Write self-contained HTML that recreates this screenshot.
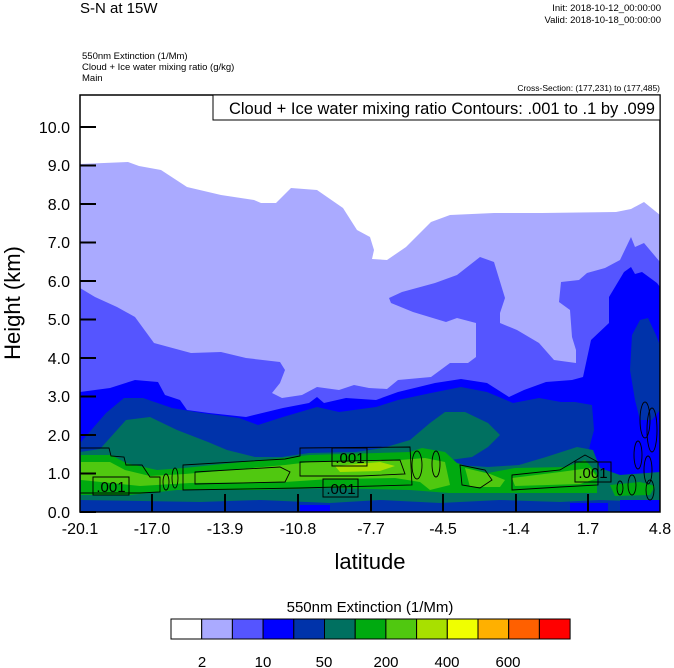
<!DOCTYPE html>
<html><head><meta charset="utf-8"><style>
body{margin:0;background:#fff;}
svg{display:block;font-family:"Liberation Sans",Arial,sans-serif;}
</style></head><body>
<svg width="674" height="668" viewBox="0 0 674 668" xmlns="http://www.w3.org/2000/svg">
<rect width="674" height="668" fill="#fff"/>
<text x="80" y="13" font-size="15">S-N at 15W</text>
<text x="661" y="11" font-size="9.5" text-anchor="end">Init: 2018-10-12_00:00:00</text>
<text x="661" y="23" font-size="9.5" text-anchor="end">Valid: 2018-10-18_00:00:00</text>
<text x="82" y="59" font-size="9.5">550nm Extinction   (1/Mm)</text>
<text x="82" y="70" font-size="9.5">Cloud + Ice water mixing ratio   (g/kg)</text>
<text x="82" y="81" font-size="9.5">Main</text>
<text x="660" y="91" font-size="8.5" text-anchor="end">Cross-Section: (177,231) to (177,485)</text>
<defs><clipPath id="c"><rect x="80" y="95" width="580" height="417"/></clipPath></defs>
<g clip-path="url(#c)">
<polygon fill="#aaaaff" points="80,164 128,162 139,166 161,170 187,187 221,195 254,200 261,203 276,203 291,188 317,190 343,208 357,230 370,237 374,250 372,259 387,260 406,247 431,222 450,215 494,213 542,213 616,212 631,209 644,202 660,215 660,512 80,512"/>
<polygon fill="#5555ff" points="80,288 95,297 117,307 135,317 154,343 191,353 221,352 246,358 280,362 285,370 280,383 272,393 282,398 302,395 317,387 339,390 354,385 369,388 387,389 398,380 431,377 450,363 468,363 476,357 476,323 457,318 446,322 413,312 391,303 389,298 402,292 435,283 457,275 480,257 494,262 505,298 500,313 500,323 517,330 539,343 554,360 576,363 576,350 572,337 570,310 559,302 561,282 579,280 587,273 605,268 620,260 631,237 635,247 644,243 660,262 660,512 80,512"/>
<polygon fill="#0000ff" points="80,392 110,388 135,380 158,382 165,395 180,400 187,410 209,413 246,417 283,408 309,403 317,397 324,403 346,398 376,400 398,392 435,383 461,379 487,383 509,397 524,390 546,382 572,380 583,377 591,340 609,323 609,297 624,272 631,267 635,274 642,272 657,283 660,287 660,512 80,512"/>
<polygon fill="#0033aa" points="80,443 106,413 124,398 143,398 172,408 202,413 239,418 258,425 283,417 317,407 339,412 376,407 398,400 431,393 461,387 487,392 513,403 539,398 561,402 575,402 592,405 594,430 590,445 585,470 580,512 80,512"/>
<polygon fill="#0033aa" points="632,335 640,320 648,318 656,335 660,345 660,410 652,420 640,420 635,400 630,370"/>
<polygon fill="#007060" points="80,452 100,449 126,420 150,417 177,430 208,442 227,450 255,457 282,457 309,453 356,452 383,448 410,440 430,423 445,412 465,412 488,423 500,435 488,447 472,457 450,460 457,465 488,467 519,465 546,457 577,447 593,450 600,468 620,475 660,472 660,505 80,505"/>
<polygon fill="#00aa10" points="81,455 111,455 126,463 157,470 184,468 282,458 309,455 410,452 422,448 445,452 457,463 488,473 515,468 566,467 585,460 597,473 597,493 546,493 488,493 449,493 410,490 332,488 255,490 177,490 130,495 81,495"/>
<polygon fill="#00aa10" points="610,485 640,482 655,486 650,495 615,496"/>
<polygon fill="#50c810" points="81,462 110,462 125,470 150,476 185,474 285,465 310,462 400,460 425,458 445,462 450,485 430,490 420,482 395,478 330,479 285,482 190,483 140,486 81,480"/>
<polygon fill="#50c810" points="465,468 490,474 505,480 500,487 470,487"/>
<polygon fill="#50c810" points="512,478 560,472 590,468 598,478 580,484 515,486"/>
<polygon fill="#a8e000" points="335,466 380,462 395,466 380,471 340,472"/>
<polygon fill="#0033aa" points="80,500 200,502 260,500 330,503 380,500 440,503 500,500 560,502 600,500 660,502 660,512 80,512"/>
<polygon fill="#0000ff" points="300,505 330,505 330,512 300,512"/>
<polygon fill="#0000ff" points="570,503 608,503 608,512 570,512"/>
<polygon fill="#0000ff" points="620,500 660,500 660,512 620,512"/>
<g fill="none" stroke="#000" stroke-width="0.9">
<polyline points="80,448 109,448 111,456 124,457 126,465 142,465 150,477 160,477 160,492 140,493 100,493 80,493"/>
<path d="M183,465 L285,459 L300,456 L300,448 L410,447 L412,485 L300,488 L183,490 Z"/>
<path d="M195,472 L280,467 L290,472 L285,482 L195,484 Z"/>
<path d="M300,462 L400,460 L405,474 L360,476 L300,476 Z"/>
<path d="M460,465 L485,470 L492,480 L480,488 L462,485 Z"/>
<path d="M512,475 L560,470 L585,455 L598,462 L598,485 L560,487 L512,490 Z"/>
<ellipse cx="417" cy="465" rx="5" ry="14"/>
<ellipse cx="436" cy="464" rx="4" ry="13"/>
<ellipse cx="175" cy="478" rx="3" ry="10"/>
<ellipse cx="166" cy="482" rx="3" ry="8"/>
<ellipse cx="645" cy="420" rx="5" ry="18"/>
<ellipse cx="652" cy="430" rx="5" ry="22"/>
<ellipse cx="638" cy="455" rx="4" ry="14"/>
<ellipse cx="648" cy="470" rx="4" ry="14"/>
<ellipse cx="632" cy="485" rx="4" ry="10"/>
<ellipse cx="650" cy="490" rx="4" ry="10"/>
<ellipse cx="620" cy="488" rx="3" ry="7"/>
</g>
<g font-size="15" text-anchor="middle">
<rect x="93" y="477" width="36" height="18" fill="none" stroke="#000"/><text x="111" y="492">.001</text>
<rect x="332" y="448" width="35" height="18" fill="none" stroke="#000"/><text x="350" y="463">.001</text>
<rect x="323" y="479" width="35" height="18" fill="none" stroke="#000"/><text x="341" y="494">.001</text>
<rect x="575" y="462" width="36" height="20" fill="none" stroke="#000"/><text x="593" y="478">.001</text>
</g>
</g>
<rect x="80" y="95" width="580" height="417" fill="none" stroke="#000" stroke-width="1.5"/>
<rect x="213" y="95" width="447" height="25" fill="#fff" stroke="#000" stroke-width="1"/>
<text x="655" y="114" font-size="16.5" text-anchor="end">Cloud + Ice water mixing ratio Contours: .001 to .1 by .099</text>
<g stroke="#000" stroke-width="2">
<line x1="80" y1="512" x2="96" y2="512"/><line x1="80" y1="473.5" x2="96" y2="473.5"/><line x1="80" y1="435" x2="96" y2="435"/><line x1="80" y1="396.5" x2="96" y2="396.5"/><line x1="80" y1="358" x2="96" y2="358"/><line x1="80" y1="319.5" x2="96" y2="319.5"/><line x1="80" y1="281" x2="96" y2="281"/><line x1="80" y1="242.5" x2="96" y2="242.5"/><line x1="80" y1="204" x2="96" y2="204"/><line x1="80" y1="165.5" x2="96" y2="165.5"/><line x1="80" y1="127" x2="96" y2="127"/>
<line x1="152" y1="512" x2="152" y2="494"/><line x1="225" y1="512" x2="225" y2="494"/><line x1="298" y1="512" x2="298" y2="494"/><line x1="371" y1="512" x2="371" y2="494"/><line x1="443" y1="512" x2="443" y2="494"/><line x1="516" y1="512" x2="516" y2="494"/><line x1="588" y1="512" x2="588" y2="494"/>
</g>
<g font-size="16" text-anchor="end">
<text x="70" y="518">0.0</text><text x="70" y="479">1.0</text><text x="70" y="441">2.0</text><text x="70" y="402">3.0</text><text x="70" y="364">4.0</text><text x="70" y="325">5.0</text><text x="70" y="287">6.0</text><text x="70" y="248">7.0</text><text x="70" y="210">8.0</text><text x="70" y="171">9.0</text><text x="70" y="133">10.0</text>
</g>
<g font-size="16" text-anchor="middle">
<text x="80" y="534">-20.1</text><text x="152" y="534">-17.0</text><text x="225" y="534">-13.9</text><text x="298" y="534">-10.8</text><text x="371" y="534">-7.7</text><text x="443" y="534">-4.5</text><text x="516" y="534">-1.4</text><text x="588" y="534">1.7</text><text x="660" y="534">4.8</text>
</g>
<text x="370" y="569" font-size="22" text-anchor="middle">latitude</text>
<text transform="translate(20,303) rotate(-90)" font-size="22" text-anchor="middle">Height (km)</text>
<text x="370" y="612" font-size="15" text-anchor="middle">550nm Extinction  (1/Mm)</text>
<g stroke="#000" stroke-width="1">
<rect x="171" y="619" width="30.7" height="20" fill="#ffffff"/>
<rect x="201.7" y="619" width="30.7" height="20" fill="#aaaaff"/>
<rect x="232.4" y="619" width="30.7" height="20" fill="#5555ff"/>
<rect x="263.1" y="619" width="30.7" height="20" fill="#0000ff"/>
<rect x="293.8" y="619" width="30.7" height="20" fill="#0033aa"/>
<rect x="324.5" y="619" width="30.7" height="20" fill="#007060"/>
<rect x="355.2" y="619" width="30.7" height="20" fill="#00aa10"/>
<rect x="385.9" y="619" width="30.7" height="20" fill="#50c810"/>
<rect x="416.6" y="619" width="30.7" height="20" fill="#a8e000"/>
<rect x="447.3" y="619" width="30.7" height="20" fill="#f0ff00"/>
<rect x="478" y="619" width="30.7" height="20" fill="#ffb000"/>
<rect x="508.7" y="619" width="30.7" height="20" fill="#ff6000"/>
<rect x="539.4" y="619" width="30.7" height="20" fill="#ff0000"/>
</g>
<g font-size="15" text-anchor="middle">
<text x="202" y="667">2</text><text x="263" y="667">10</text><text x="324" y="667">50</text><text x="386" y="667">200</text><text x="447" y="667">400</text><text x="508" y="667">600</text>
</g>
</svg>
</body></html>
